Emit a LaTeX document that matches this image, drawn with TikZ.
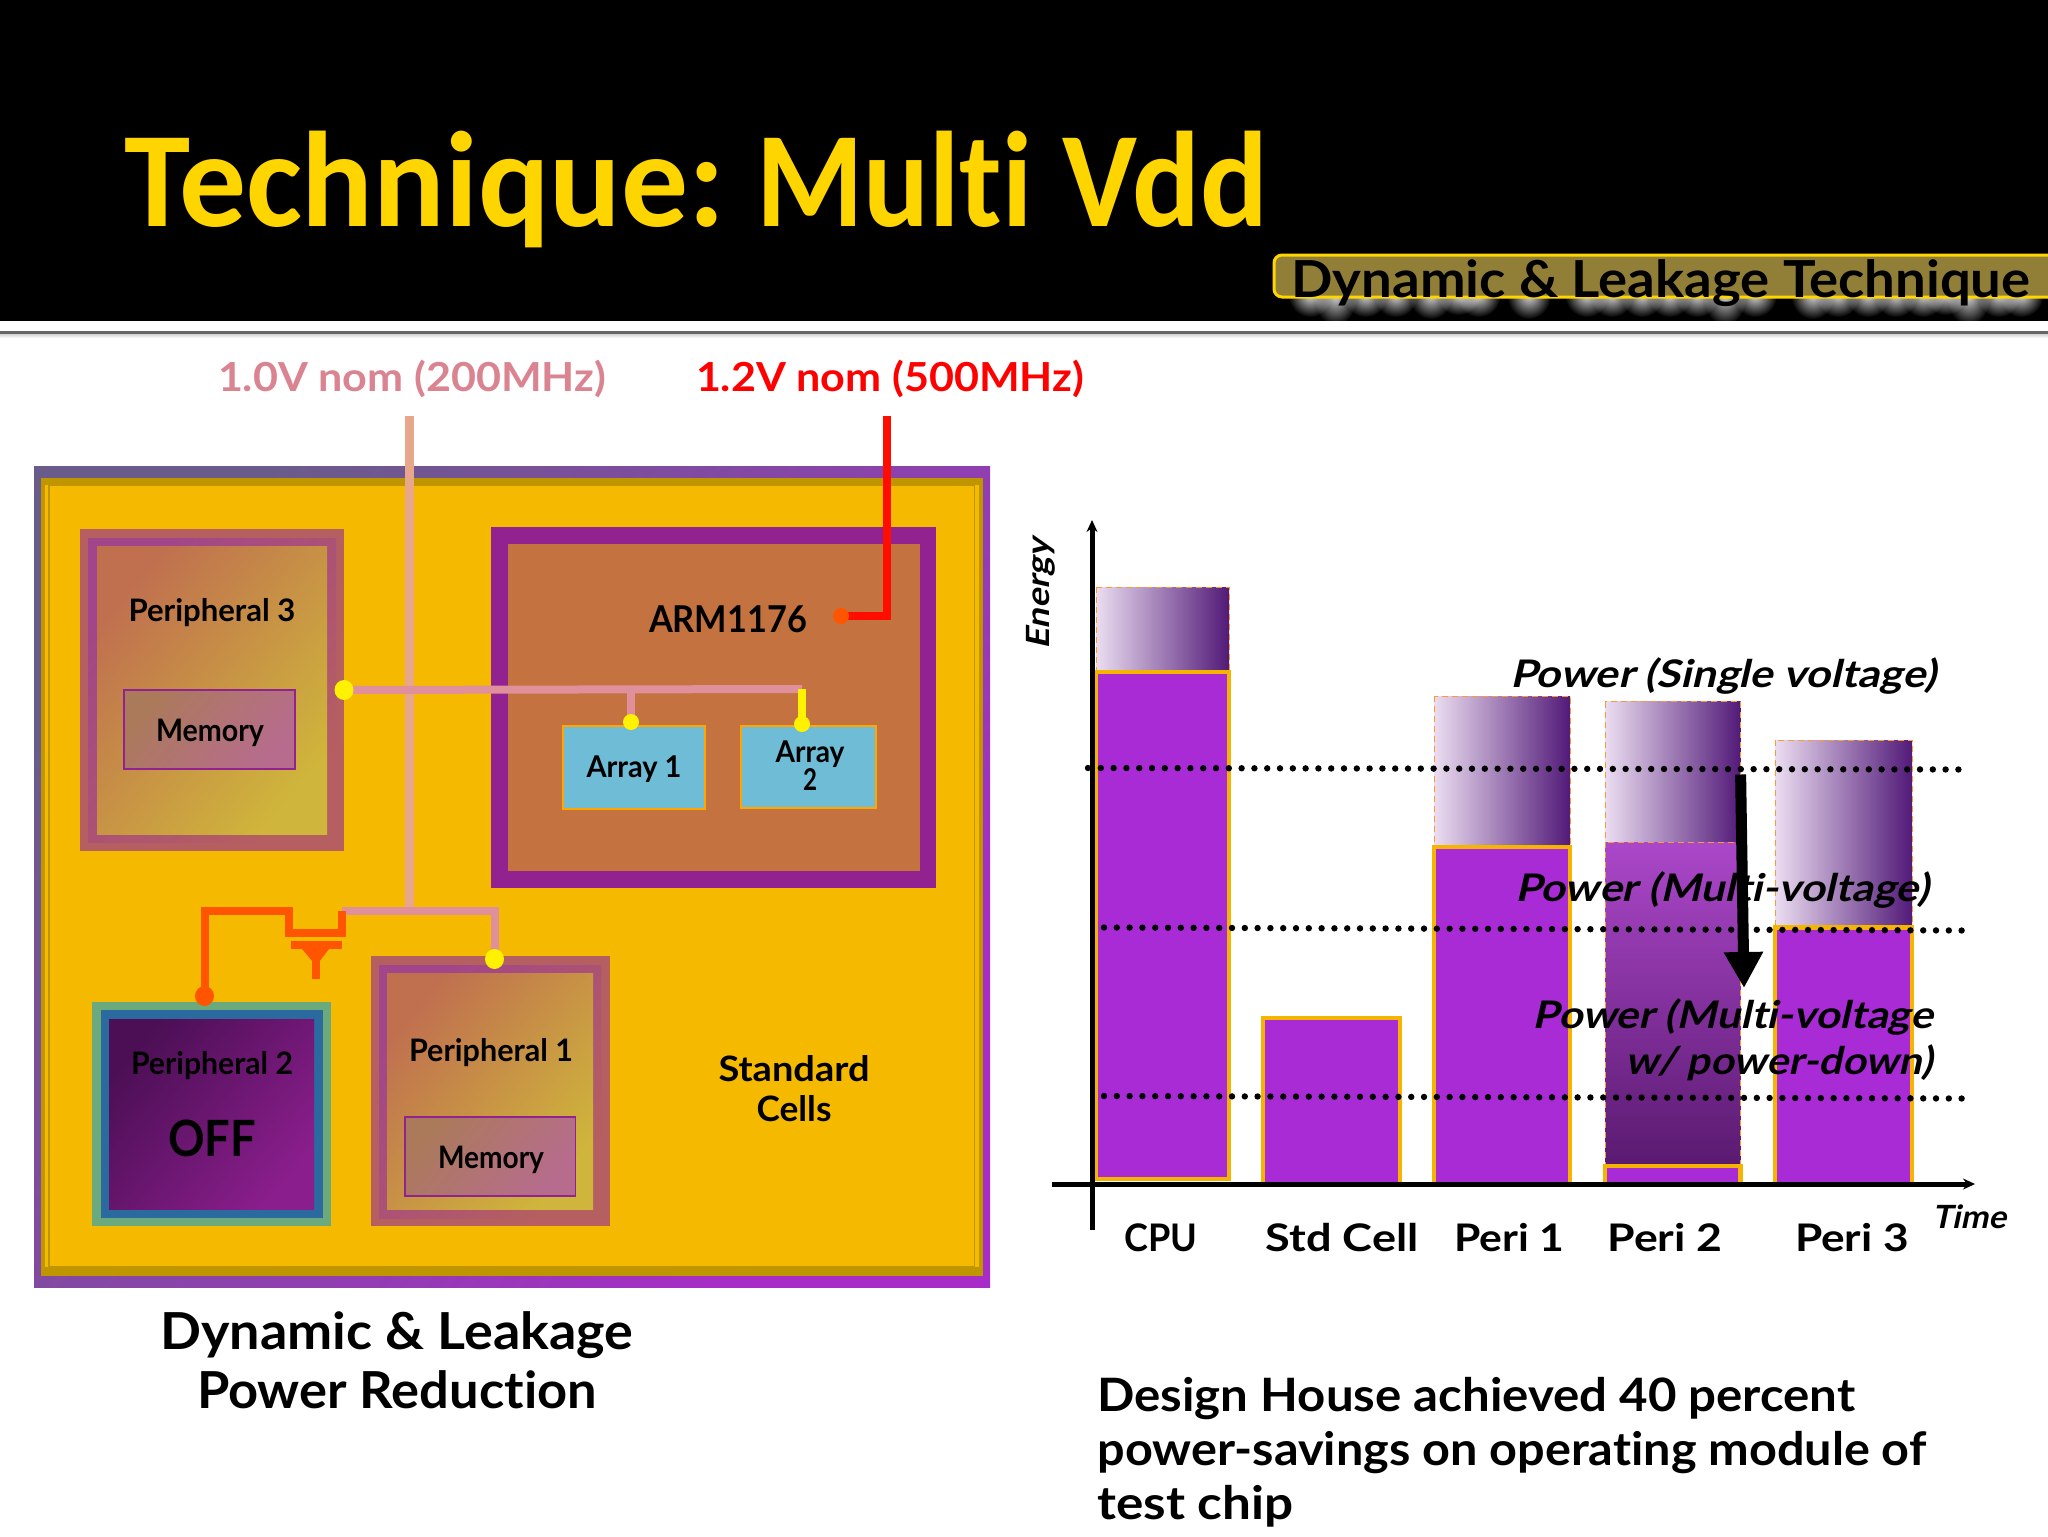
\documentclass[tikz,border=0pt]{standalone}
\usepackage{fontspec}
\usepackage{graphicx}
\usetikzlibrary{arrows.meta,calc,fadings}
\setmainfont{Lato}
\newfontfamily\cf[Ligatures=NoCommon]{Lato Bold}
\newfontfamily\cfi[FakeSlant=0.2,Ligatures=NoCommon]{Lato Bold}
\newfontfamily\ttl[Ligatures=NoCommon]{Carlito Bold}
\newsavebox\fitb
\newcommand\T[2]{\sbox\fitb{#2}\pgfmathsetmacro\fitr{#1*0.5/\wd\fitb*1pt}\scalebox{\fitr}[1]{\usebox\fitb}}
\newcommand\lab[2]{\cf\fontsize{#1}{#2}\selectfont}
\newcommand\labi[2]{\cfi\fontsize{#1}{#2}\selectfont}
\definecolor{gold}{HTML}{F5BA00}
\definecolor{dgold}{HTML}{BF9500}
\definecolor{bar}{HTML}{A92BD6}
\definecolor{barb}{HTML}{F5B400}
\definecolor{rust}{HTML}{C0704F}
\definecolor{ygold}{HTML}{CFB53B}
\definecolor{ring}{HTML}{B55F60}
\definecolor{ringin}{HTML}{A2458A}
\definecolor{pink}{HTML}{E0909A}
\definecolor{peach}{HTML}{E8A68A}
\definecolor{oran}{HTML}{FF5500}
\definecolor{rosetxt}{HTML}{D98490}
\definecolor{armp}{HTML}{92228F}
\definecolor{armf}{HTML}{C47340}
\definecolor{arrb}{HTML}{6FBCD6}
\definecolor{chipa}{HTML}{6A5C8A}
\definecolor{chipb}{HTML}{A82CC8}
\definecolor{mema}{HTML}{AB7A5A}
\definecolor{memb}{HTML}{B76C8E}
\definecolor{offa}{HTML}{4C0F55}
\definecolor{offb}{HTML}{8A1E8C}
\definecolor{ghosta}{HTML}{EBDDF1}
\definecolor{ghostb}{HTML}{AE92C0}
\definecolor{ghostc}{HTML}{521A78}
\definecolor{baddge}{HTML}{917F38}
\definecolor{teal}{HTML}{6BAA7C}
\definecolor{blu}{HTML}{2A6A9E}
\definecolor{p2a}{HTML}{AB47C9}
\definecolor{p2b}{HTML}{5A1A70}
\definecolor{tgold}{HTML}{FFD500}
\tikzfading[name=gfade,inner color=transparent!15,outer color=transparent!100]
\tikzset{
 x=0.5pt,y=-0.5pt,
 txt/.style={inner sep=0pt,text=black},
 dots/.style={line width=3.2pt,dash pattern=on 0pt off 6.4pt,line cap=round,black},
 wire/.style={line width=4pt,line join=miter},
 diag/.style 2 args={shading=axis,left color=#1,right color=#2,shading angle=50},
 warm/.style={shading=axis,left color=rust,middle color=ygold!80!rust,right color=ygold,shading angle=50},
 yellowbar/.style={fill=bar,draw=barb,line width=2.4pt},
 ghost/.style={draw=orange!80,line width=0.4pt,densely dashed,left color=ghosta,middle color=ghostb,right color=ghostc},
}
\begin{document}
\begin{tikzpicture}
\useasboundingbox (0,0) rectangle (2048,1536);
\fill[white] (0,0) rectangle (2048,1536);
% header
\fill[black] (0,0) rectangle (2048,321);
\shade[top color=gray!60,bottom color=white] (0,331) rectangle (2048,338);
\fill[gray!80!black] (0,331) rectangle (2048,334);
\node[anchor=base west,inner sep=0pt,text=tgold,font=\ttl\fontsize{68}{68}\selectfont] (title) at (124,226) {\T{601}{Technique:} \T{276}{Multi} \T{205}{Vdd}};
% badge glow
\begin{scope}
\clip (1274,297) rectangle (2048,321);
\foreach \gx/\gr in {100/22,150/30,210/22,270/22,340/24,395/20,435/22,535/24,650/22,700/22,760/22,815/22,870/22,925/30,985/22,1100/24,1150/22,1210/22,1265/22,1320/22,1365/20,1410/30,1470/22,1515/22}
  \fill[white,path fading=gfade] ({1260+\gx/1.99},295) ellipse [x radius=22,y radius=\gr];
\end{scope}
\draw[draw=tgold,line width=1.5pt,fill=baddge,rounded corners=4pt] (1274,255) rectangle (2060,297);
\node[txt,font=\lab{25.5}{25.5}] (badge) at (1661,283) {\T{739}{Dynamic \& Leakage Technique}};
% voltage labels
\node[txt,text=rosetxt,font=\lab{20}{20}] (v10) at (412,379) {\T{388}{1.0V nom (200MHz)}};
\node[txt,text=red,font=\lab{20}{20}] (v12) at (890,379) {\T{388}{1.2V nom (500MHz)}};
% chip
\path[diag={chipa}{chipb}] (34,466) rectangle (990,1287);
\fill[dgold] (40.5,478) rectangle (983,1276);
\fill[gold] (45,485) rectangle (979,1267);
\draw[dgold,line width=0.8pt] (49,485) rectangle (974.5,1267);
% peripheral 3
\fill[ring] (80,529) rectangle (344,851);
\path[diag={ringin}{ring}] (88,538) rectangle (336,842);
\path[warm] (97,546) rectangle (327,834);
\path[diag={mema}{memb},draw=armp,line width=0.8pt] (124,690) rectangle (295,769);
\node[txt,font=\lab{15.5}{15.5}] (p3) at (212,613) {\T{167}{Peripheral 3}};
\node[txt,font=\lab{15.5}{15.5}] (m3) at (210,733) {\T{108}{Memory}};
% ARM
\fill[armp] (491,527) rectangle (936,888);
\fill[armf] (508,544) rectangle (919.6,871);
\node[txt,font=\lab{18.5}{18.5}] (arm) at (728,619) {\T{158}{ARM1176}};
% arrays
\path[fill=arrb,draw=orange!70!yellow,line width=1pt] (563,726) rectangle (705,809);
\path[fill=arrb,draw=orange!70!yellow,line width=1pt] (741,726) rectangle (876,808);
\node[txt,font=\lab{15}{15}] (a1) at (634,769) {\T{95}{Array 1}};
\node[txt,align=center,font=\lab{15}{14}] (a2) at (810,766) {\T{69}{Array}\\\T{14}{2}};
% power wires
\coordinate (v10top) at (409.5,416);
\coordinate (v10bot) at (409.5,911);
\coordinate (v12top) at (887,416);
\coordinate (armdot) at (841,616);
\coordinate (p3dot) at (344,690);
\coordinate (busend) at (802,689);
\coordinate (a1dot) at (631,722);
\coordinate (a2dot) at (802,724);
\coordinate (p1dot) at (494.5,959);
\coordinate (p2dot) at (204.5,996);
\coordinate (swl) at (289,911);
\coordinate (swr) at (342,911);
\draw[peach,line width=4.5pt] (v10top) -- (v10bot);
\draw[red!90!orange,line width=4.2pt] (v12top) |- (armdot);
\draw[pink,wire] (p3dot) -- (802,689);
\draw[pink,wire] (631,689) -- (a1dot);
\draw[yellow,wire] (busend) -- (a2dot);
\draw[pink,wire] (swr) -- (494.5,911) -- (p1dot);
\draw[oran,wire] (p2dot) -- (204.5,911) -- (swl) -- (289,933) -- (342,933) -- (swr);
\fill[oran] (290.6,941) rectangle (341.6,949);
\fill[oran] (302,949) -- (329,949) -- (319,962) -- (313,962) -- cycle;
\fill[oran] (312,955) rectangle (320,979);
\fill[oran] (armdot) ellipse [x radius=8,y radius=8];
% peripheral 2
\fill[teal] (92,1002) rectangle (331,1226);
\fill[blu] (100.6,1010) rectangle (323,1218);
\path[diag={offa}{offb}] (109,1019) rectangle (314,1209);
\node[txt,font=\lab{15.5}{15.5}] (p2) at (212,1066) {\T{162}{Peripheral 2}};
\node[txt,font=\lab{25}{25}] (off) at (212,1138) {\T{88}{OFF}};
% peripheral 1
\fill[ring] (371,956) rectangle (609.5,1226);
\path[diag={ringin}{ring}] (379,965) rectangle (601,1218);
\path[warm] (387,973) rectangle (593,1209);
\path[diag={mema}{memb},draw=armp,line width=0.8pt] (405,1117) rectangle (575.5,1196);
\node[txt,font=\lab{15.5}{15.5}] (p1) at (491,1053) {\T{164}{Peripheral 1}};
\node[txt,font=\lab{15.5}{15.5}] (m1) at (491,1160) {\T{106}{Memory}};
% dots on top
\fill[oran] (p2dot) ellipse [x radius=9.5,y radius=10];
\fill[yellow] (p3dot) ellipse [x radius=9.5,y radius=10];
\fill[yellow] (a1dot) ellipse [x radius=8,y radius=8];
\fill[yellow] (a2dot) ellipse [x radius=8,y radius=8];
\fill[yellow] (p1dot) ellipse [x radius=9.5,y radius=10];
\node[txt,align=center,font=\lab{17.5}{20}] (std) at (794,1089) {\T{151}{Standard}\\\T{75}{Cells}};
\node[txt,align=center,font=\lab{25.5}{29.5}] (cap) at (397,1360) {\T{473}{Dynamic \& Leakage}\\\T{400}{Power Reduction}};
% chart bars
\shade[ghost] (1096,587) rectangle (1229,672);
\path[yellowbar] (1096,672) rectangle (1229,1179);
\path[yellowbar] (1263,1018) rectangle (1400,1184);
\shade[ghost] (1434,696) rectangle (1570,847);
\path[yellowbar] (1434,847) rectangle (1570,1184);
\shade[ghost] (1605,701.5) rectangle (1740.6,842);
\shade[top color=p2a,bottom color=p2b,draw=orange!80,line width=0.4pt,densely dashed] (1605,842) rectangle (1740.6,1166);
\path[yellowbar] (1605,1166) rectangle (1740.6,1184);
\shade[ghost] (1775,740) rectangle (1912,927.6);
\path[yellowbar] (1775,927.6) rectangle (1912,1184);
% axes
\coordinate (ya) at (1092,1230);
\coordinate (yb) at (1092,520);
\coordinate (xa) at (1052,1184);
\coordinate (xb) at (1975,1184);
\draw[line width=2.5pt,-{Stealth[length=6pt,width=5.5pt]}] (ya) -- (yb);
\draw[line width=2.5pt,-{Stealth[length=6pt,width=5.5pt]}] (xa) -- (xb);
% dotted levels
\coordinate (d1a) at (1088,768); \coordinate (d1b) at (1964,769.5);
\coordinate (d2a) at (1104,927.5); \coordinate (d2b) at (1966,930.5);
\coordinate (d3a) at (1104,1096); \coordinate (d3b) at (1966,1098.5);
\draw[dots] (d1a) -- (d1b);
\draw[dots] (d2a) -- (d2b);
\draw[dots] (d3a) -- (d3b);
% big arrow
\coordinate (ba) at (1740.6,774.5);
\coordinate (bb) at (1744,988);
\draw[line width=5.5pt,-{Triangle[length=18pt,width=18.5pt]}] (ba) -- (bb);
% chart labels
\node[txt,font=\labi{19}{19}] (ps) at (1723,676) {\T{426}{Power (Single voltage)}};
\node[txt,font=\labi{19}{19}] (pm) at (1722,890) {\T{414}{Power (Multi-voltage)}};
\node[txt,align=right,anchor=east,font=\labi{19}{23}] (pd) at (1933,1040) {\T{400}{Power (Multi-voltage}\\\T{307}{w/ power-down)}};
\node[txt,rotate=90,font=\labi{16}{16}] (en) at (1041,594) {\T{111}{Energy}};
\node[txt,font=\labi{16}{16}] (time) at (1969,1217) {\T{74}{Time}};
\node[txt,font=\lab{19}{19}] (l1) at (1161,1238) {\T{73}{CPU}};
\node[txt,font=\lab{19}{19}] (l2) at (1342,1238) {\T{153}{Std Cell}};
\node[txt,font=\lab{19}{19}] (l3) at (1509,1238) {\T{110}{Peri 1}};
\node[txt,font=\lab{19}{19}] (l4) at (1665,1238) {\T{115}{Peri 2}};
\node[txt,font=\lab{19}{19}] (l5) at (1852,1238) {\T{114}{Peri 3}};
% bottom text
\node[txt,anchor=north west,align=left,font=\lab{23}{27}] (note) at (1097,1377) {\T{758}{Design House achieved 40 percent}\\\T{829}{power-savings on operating module of}\\\T{196}{test chip}};
\end{tikzpicture}
\end{document}
